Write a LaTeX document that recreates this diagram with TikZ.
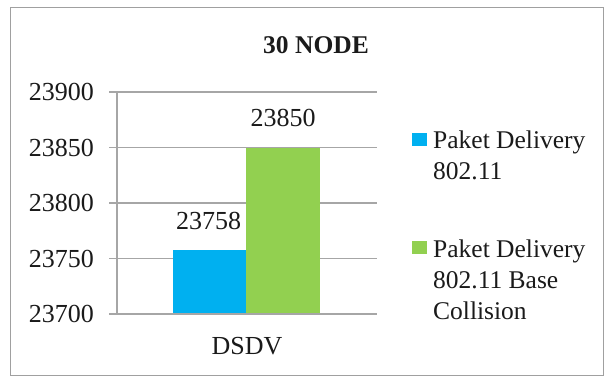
\documentclass[tikz,border=0pt]{standalone}
\usepackage{fontspec}
\setmainfont{Liberation Serif}
\definecolor{barblue}{HTML}{00B0F0}
\definecolor{bargreen}{HTML}{92D050}
\definecolor{gridgray}{HTML}{A6A6A6}
\definecolor{framegray}{HTML}{A0A0A0}
\definecolor{txt}{HTML}{1A1A1A}
\begin{document}
\begin{tikzpicture}[x=1pt,y=-1pt,
  axislabel/.style={anchor=east,inner sep=0,text=txt,font=\fontsize{26}{30}\selectfont},
  vallabel/.style={anchor=center,inner sep=0,text=txt,font=\fontsize{26}{30}\selectfont},
  legtext/.style={anchor=north west,inner sep=0,align=left,text=txt,font=\fontsize{25.5}{31}\selectfont},
  grid/.style={draw=gridgray,line width=1.1pt}]
\useasboundingbox (0,0) rectangle (612,377);
\fill[white] (0,0) rectangle (612,377);
\draw[framegray,line width=1pt] (10,8) rectangle (603,375);
\node[font=\bfseries\fontsize{25.5}{30}\selectfont,text=txt] (title) at (316,45) {30 NODE};
% gridlines
\foreach \v/\y in {23900/92,23850/147.5,23800/203,23750/258.5,23700/314}{
  \draw[grid] (109,\y) -- (377,\y);
  \node[axislabel] (lab\v) at (94,\y) {\v};
}
\draw[grid] (117,92) -- (117,314);
% bars
\fill[barblue] (173,250) rectangle (246,314);
\fill[bargreen] (246,147.5) rectangle (320,314);
\draw[grid] (109,314) -- (377,314);
\node[vallabel] (v1) at (208.5,221) {23758};
\node[vallabel] (v2) at (283,118) {23850};
\node[vallabel] (cat) at (247,346) {DSDV};
% legend
\fill[barblue] (412,133) rectangle (427,146);
\node[legtext] (leg1) at (433,131) {Paket Delivery\\802.11};
\fill[bargreen] (412,241) rectangle (427,254);
\node[legtext] (leg2) at (433,240) {Paket Delivery\\802.11 Base\\Collision};
\end{tikzpicture}
\end{document}
